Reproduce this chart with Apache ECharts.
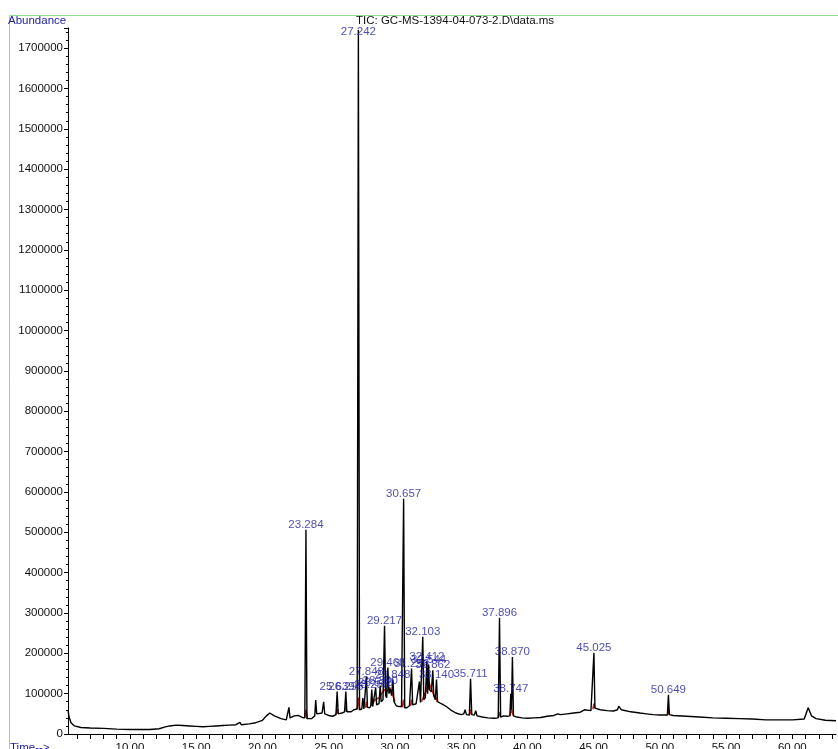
<!DOCTYPE html>
<html>
<head>
<meta charset="utf-8">
<title>TIC chromatogram</title>
<script src="https://cdn.jsdelivr.net/npm/echarts@6/dist/echarts.min.js"></script>
<style>
  html, body { margin: 0; padding: 0; background: #fff; }
  #chart { width: 838px; height: 749px; }
</style>
</head>
<body>
<div id="chart"></div>
<script>
// retention time (min), abundance
const tic = [
  [5.32, 60000], [5.40, 42000], [5.55, 28000], [5.8, 20000], [6.3, 16000], [7.0, 15000],
  [8.0, 14000], [9.0, 12000], [10.0, 11000], [10.6, 11000], [10.7, 15000], [10.8, 11000],
  [11.5, 11000], [12.2, 13000], [12.6, 17000], [13.0, 20000], [13.5, 22000], [14.0, 21000],
  [14.5, 20000], [15.0, 19000], [15.5, 18000], [16.0, 19000], [16.5, 20000], [17.0, 21000],
  [17.5, 22000], [18.0, 23000], [18.3, 29000], [18.4, 23000], [19.0, 25000], [19.5, 28000],
  [20.0, 34000], [20.3, 45000], [20.55, 52000], [20.9, 45000], [21.4, 38000], [21.8, 35000],
  [21.92, 36000], [22.0, 66000], [22.08, 40000], [22.4, 45000], [22.7, 46000], [23.0, 41000],
  [23.2, 40000], [23.284, 506000], [23.36, 38000], [23.7, 38000], [23.95, 45000], [24.02, 84000],
  [24.1, 50000], [24.5, 52000], [24.62, 80000], [24.7, 50000], [25.0, 46000], [25.3, 44000],
  [25.55, 48000], [25.639, 105000], [25.72, 50000], [26.0, 52000], [26.2, 55000], [26.295, 105000],
  [26.37, 55000], [26.7, 55000], [26.9, 60000], [27.0, 58000], [27.15, 62000], [27.242, 1745000],
  [27.33, 60000], [27.5, 62000], [27.58, 89000], [27.66, 62000], [27.78, 65000], [27.848, 142000],
  [27.93, 66000], [28.1, 65000], [28.18, 70000], [28.253, 110000], [28.32, 68000], [28.45, 70000],
  [28.548, 115000], [28.62, 72000], [28.8, 75000], [28.89, 120000], [28.96, 80000], [29.1, 85000],
  [29.217, 268000], [29.3, 95000], [29.38, 90000], [29.468, 165000], [29.55, 100000], [29.65, 112000],
  [29.75, 95000], [29.848, 135000], [29.93, 80000], [30.1, 70000], [30.3, 68000], [30.5, 68000],
  [30.657, 583000], [30.74, 65000], [30.9, 65000], [31.1, 70000], [31.256, 162000], [31.34, 72000],
  [31.6, 75000], [31.85, 130000], [31.93, 78000], [32.0, 80000], [32.103, 241000], [32.18, 85000],
  [32.3, 90000], [32.412, 180000], [32.47, 100000], [32.544, 172000], [32.6, 110000], [32.75, 105000],
  [32.862, 158000], [32.93, 95000], [33.05, 85000], [33.14, 135000], [33.22, 80000], [33.5, 75000],
  [33.8, 70000], [34.2, 60000], [34.6, 52000], [35.0, 48000], [35.2, 50000], [35.3, 60000],
  [35.4, 48000], [35.62, 47000], [35.711, 137000], [35.8, 48000], [36.0, 47000], [36.1, 58000],
  [36.2, 45000], [36.6, 42000], [37.0, 40000], [37.5, 39000], [37.8, 40000], [37.896, 288000],
  [37.98, 42000], [38.2, 45000], [38.5, 44000], [38.68, 45000], [38.747, 100000], [38.8, 60000],
  [38.87, 191000], [38.95, 45000], [39.2, 42000], [39.6, 40000], [40.0, 39000], [40.5, 40000],
  [41.0, 41000], [41.5, 44000], [42.0, 46000], [42.3, 50000], [42.5, 48000], [43.0, 50000],
  [43.5, 52000], [44.0, 54000], [44.3, 60000], [44.4, 56000], [44.8, 58000], [44.95, 62000],
  [45.025, 201000], [45.1, 64000], [45.5, 60000], [46.0, 58000], [46.5, 57000], [46.8, 60000],
  [46.9, 69000], [47.1, 60000], [47.8, 55000], [48.5, 52000], [49.0, 50000], [49.5, 48000],
  [50.0, 47000], [50.57, 47000], [50.649, 97000], [50.72, 48000], [51.0, 46000], [52.0, 44000],
  [53.0, 42000], [54.0, 40000], [55.0, 39000], [56.0, 38000], [57.0, 37000], [58.0, 35000],
  [59.0, 35000], [60.0, 35000], [60.9, 37000], [61.2, 65000], [61.45, 45000], [61.8, 38000],
  [62.5, 34000], [63.3, 33000]
]

// integrated peak shading (red), '-' breaks the line
const integ = [
  [23.18, 40000], [23.284, 60000], [23.4, 38000], [23.5, '-'],
  [25.55, 48000], [25.639, 62000], [25.72, 50000], [25.8, '-'],
  [26.2, 55000], [26.295, 68000], [26.37, 55000], [26.5, '-'],
  [27.15, 62000], [27.242, 90000], [27.33, 60000], [27.4, '-'],
  [27.78, 65000], [27.848, 80000], [27.93, 66000], [28.0, '-'],
  [28.2, 70000], [28.5, 85000], [28.8, 90000], [29.0, 100000], [29.2, 110000], [29.4, 105000],
  [29.6, 115000], [29.8, 100000], [30.0, 80000], [30.2, '-'],
  [30.55, 66000], [30.657, 85000], [30.74, 65000], [30.9, '-'],
  [31.18, 70000], [31.256, 85000], [31.34, 72000], [31.5, '-'],
  [32.0, 80000], [32.2, 95000], [32.4, 110000], [32.55, 130000], [32.7, 115000], [32.9, 100000],
  [33.1, 90000], [33.2, 80000], [33.4, '-'],
  [35.62, 47000], [35.711, 60000], [35.8, 48000], [35.9, '-'],
  [37.8, 40000], [37.896, 55000], [37.98, 42000], [38.1, '-'],
  [38.68, 45000], [38.8, 62000], [38.95, 45000], [39.1, '-'],
  [44.95, 62000], [45.025, 75000], [45.1, 64000], [45.2, '-'],
  [50.57, 47000], [50.649, 60000], [50.72, 48000]
]

// labelled peaks: apex time, apex abundance
const peaks = [
  [23.284, 506000], [25.639, 105000], [26.295, 105000], [27.242, 1745000], [27.848, 142000],
  [28.253, 110000], [28.548, 115000], [28.89, 120000], [29.217, 268000], [29.468, 165000],
  [29.848, 135000], [30.657, 583000], [31.256, 162000], [32.103, 241000], [32.412, 180000],
  [32.544, 172000], [32.862, 158000], [33.14, 135000], [35.711, 137000], [37.896, 288000],
  [38.747, 100000], [38.87, 191000], [45.025, 201000], [50.649, 97000]
]

const timeLabels = [10, 15, 20, 25, 30, 35, 40, 45, 50, 55, 60]
const timeTicks = [6, 7, 8, 9, 10, 11, 12, 13, 14, 15, 16, 17, 18, 19, 20, 21, 22, 23, 24, 25, 26,
  27, 28, 29, 30, 31, 32, 33, 34, 35, 36, 37, 38, 39, 40, 41, 42, 43, 44, 45, 46, 47, 48, 49, 50,
  51, 52, 53, 54, 55, 56, 57, 58, 59, 60, 61, 62, 63]

const yMax = 1750000
const blue = '#1c1c9c'

const myChart = echarts.init(document.getElementById('chart'))

// the biggest peak runs off the top, so its label sits under the apex
const peakData = peaks.map(p => {
  if (p[1] >= yMax * 0.99) {
    return { value: p, label: { position: 'bottom', distance: -4 } }
  }
  return { value: p }
})

const option = {
  animation: false,
  backgroundColor: '#fff',
  textStyle: { fontFamily: 'Liberation Sans' },
  grid: {
    left: 68, right: 2, top: 28, bottom: 15,
    containLabel: false,
    outerBoundsMode: 'none'
  },
  graphic: [
    {
      type: 'rect',
      left: 7, top: 13,
      shape: { width: 860, height: 760 },
      style: { fill: 'none', stroke: '#8fdc8f', lineWidth: 1 },
      silent: true
    },
    {
      type: 'text', left: 8, top: 15,
      style: { text: 'Abundance', fill: blue, font: '11.5px "Liberation Sans"' }
    },
    {
      type: 'text', left: 356, top: 15,
      style: { text: 'TIC: GC-MS-1394-04-073-2.D\\data.ms', fill: '#111', font: '11.5px "Liberation Sans"' }
    },
    {
      type: 'text', left: 10, top: 742,
      style: { text: 'Time-->', fill: blue, font: '11.5px "Liberation Sans"' }
    }
  ],
  xAxis: {
    type: 'value',
    min: 5.32,
    max: 63.3,
    splitLine: { show: false },
    axisLine: { lineStyle: { color: '#000', width: 1 } },
    axisTick: { show: true, length: 5, customValues: timeTicks, lineStyle: { color: '#000' } },
    axisLabel: {
      customValues: timeLabels,
      color: '#111',
      fontSize: 11.5,
      margin: 8,
      formatter: v => v.toFixed(2)
    }
  },
  yAxis: {
    type: 'value',
    min: 0,
    max: yMax,
    interval: 100000,
    splitLine: { show: false },
    axisLine: { show: true, lineStyle: { color: '#000', width: 1 } },
    axisTick: { show: true, length: 4, lineStyle: { color: '#000' } },
    minorTick: { show: true, splitNumber: 5, length: 2, lineStyle: { color: '#000' } },
    axisLabel: {
      color: '#111',
      fontSize: 11.5,
      margin: 5,
      showMaxLabel: false,
      formatter: v => String(v)
    }
  },
  series: [
    {
      name: 'integration',
      type: 'line',
      data: integ,
      showSymbol: false,
      connectNulls: false,
      z: 1,
      lineStyle: { color: '#c8231e', width: 1.6 }
    },
    {
      name: 'TIC',
      type: 'line',
      data: tic,
      showSymbol: false,
      z: 2,
      lineStyle: { color: '#000', width: 1.4 }
    },
    {
      name: 'peaks',
      type: 'scatter',
      data: peakData,
      symbolSize: 0,
      z: 3,
      silent: true,
      label: {
        show: true,
        position: 'top',
        distance: -1,
        color: blue,
        fontSize: 11.5,
        formatter: p => p.value[0].toFixed(3)
      }
    }
  ]
}

myChart.setOption(option)
</script>
</body>
</html>
